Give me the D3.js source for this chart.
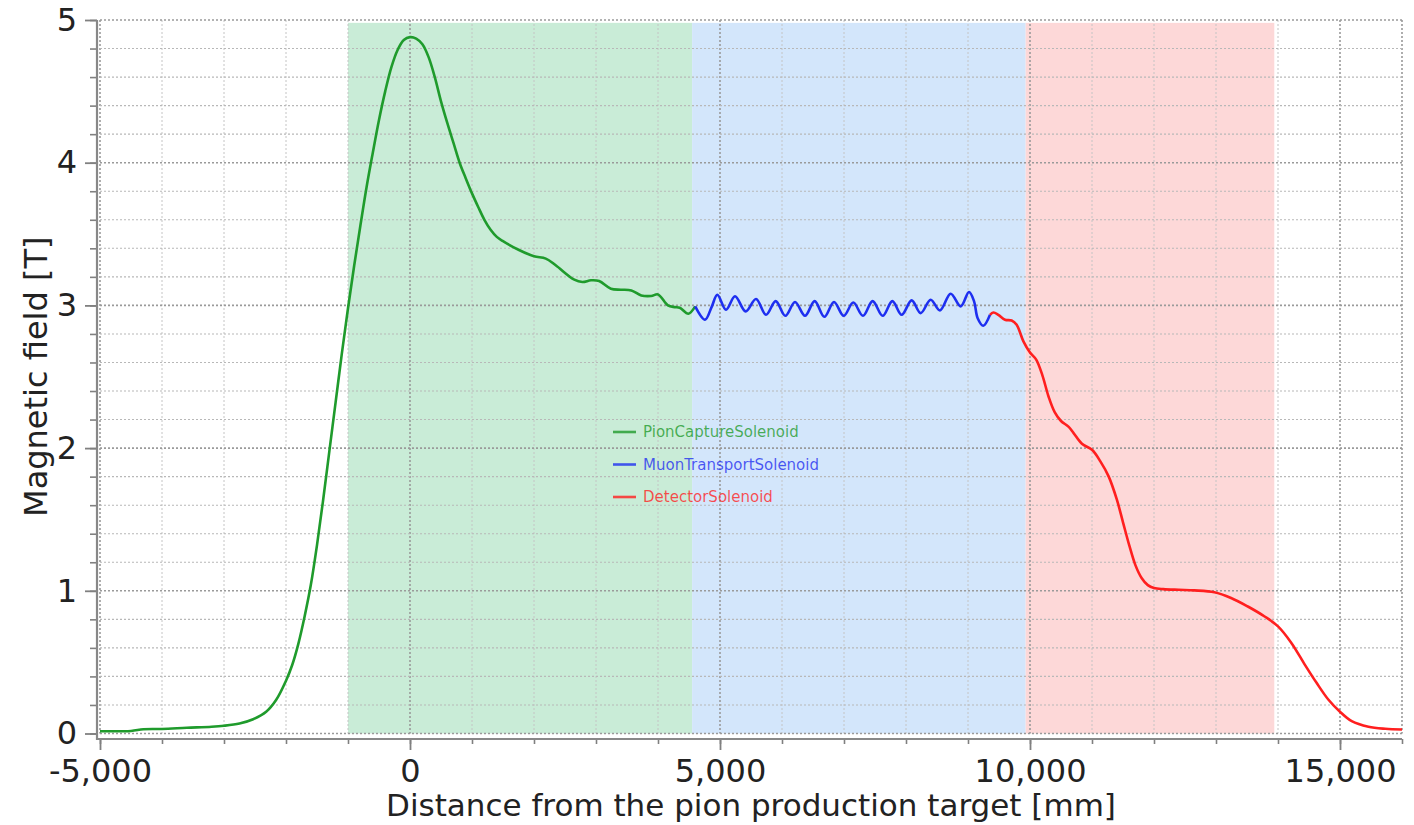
<!DOCTYPE html>
<html>
<head>
<meta charset="utf-8">
<script src="https://cdn.jsdelivr.net/npm/d3@7"></script>
<style>
  body { margin: 0; background: #fff; }
  svg { display: block; }
</style>
</head>
<body>
<div id="chart"></div>
<script>
const width = 1414;
const height = 825;

// solenoids, their colours and the stretch of beam line they cover [mm]
const solenoids = ["PionCaptureSolenoid", "MuonTransportSolenoid", "DetectorSolenoid"];
const lineColors = ["#1f9b2c", "#1e2ff0", "#ff1f1f"];
const bandColors = ["#c9ecd7", "#d3e6fb", "#fdd8d8"];
const regionStart = [-1000, 4550, 9930];
const regionEnd = [4550, 9930, 13940];

// field on axis [T] vs distance [mm]
const pionZ = [-5000, -4500, -4300, -4000, -3600, -3200, -3000, -2750, -2530, -2320, -2160, -2000,
  -1900, -1800, -1700, -1600, -1500, -1400, -1300, -1200, -1100, -1000, -900, -800, -700, -600,
  -500, -400, -300, -200, -100, 0, 100, 200, 300, 400, 500, 600, 700, 800, 900, 1000, 1100, 1200,
  1300, 1400, 1500, 1750, 2000, 2190, 2350, 2650, 2780, 2920, 3050, 3240, 3400,
  3570, 3730, 3890, 4000, 4160, 4270, 4350, 4490, 4600];
const pionB = [0.016, 0.018, 0.03, 0.032, 0.04, 0.047, 0.054, 0.07, 0.1, 0.153, 0.235, 0.37,
  0.48, 0.63, 0.82, 1.04, 1.32, 1.64, 1.98, 2.32, 2.66, 2.98, 3.28, 3.56, 3.83, 4.07,
  4.3, 4.5, 4.67, 4.79, 4.86, 4.88, 4.87, 4.83, 4.74, 4.6, 4.43, 4.28, 4.14, 4.0, 3.89, 3.785, 3.69, 3.6,
  3.53, 3.48, 3.45, 3.39, 3.344, 3.328, 3.281, 3.18, 3.164, 3.176, 3.171, 3.117, 3.11,
  3.105, 3.07, 3.066, 3.077, 3.0, 2.988, 2.984, 2.942, 2.993];

const muonZ = [4600, 4758, 4866, 4957, 5097, 5242, 5414, 5581, 5742, 5898, 6054, 6210, 6371, 6527,
  6683, 6839, 6995, 7150, 7306, 7462, 7624, 7780, 7930, 8091, 8237, 8398, 8548, 8720, 8882, 9016,
  9097, 9156, 9247, 9355];
const muonB = [2.993, 2.90, 2.99, 3.075, 2.97, 3.064, 2.958, 3.045, 2.934, 3.03, 2.927, 3.024, 2.927, 3.03,
  2.92, 3.024, 2.927, 3.02, 2.927, 3.03, 2.927, 3.03, 2.934, 3.035, 2.946, 3.04, 2.965, 3.082, 2.993, 3.094,
  3.03, 2.91, 2.857, 2.934];

const detZ = [9355, 9409, 9489, 9597, 9704, 9785, 9892, 10000, 10100, 10200, 10300, 10400, 10500, 10620,
  10703, 10838, 11000, 11135, 11270, 11400, 11500, 11600, 11700, 11800, 11900, 12000, 12150, 12400,
  12649, 12973, 13243, 13514, 13784, 14000, 14216, 14432, 14622, 14811, 15000, 15189, 15459, 15730, 16000];
const detB = [2.934, 2.95, 2.934, 2.90, 2.894, 2.864, 2.75, 2.67, 2.62, 2.51, 2.36, 2.25, 2.19, 2.15,
  2.105, 2.03, 1.988, 1.907, 1.80, 1.64, 1.48, 1.32, 1.18, 1.09, 1.04, 1.02, 1.012, 1.007,
  1.003, 0.99, 0.95, 0.89, 0.82, 0.751, 0.635, 0.483, 0.355, 0.238, 0.152, 0.086, 0.047, 0.033, 0.028];

// ticks
const xTickValues = [-5000, 0, 5000, 10000, 15000];
const xTickLabels = ["-5,000", "0", "5,000", "10,000", "15,000"];
const yTickValues = [0, 1, 2, 3, 4, 5];

const xTitle = "Distance from the pion production target [mm]";
const yTitle = "Magnetic field [T]";

const series = [
  { z: pionZ, b: pionB },
  { z: muonZ, b: muonB },
  { z: detZ, b: detB }
];

const x = d3.scaleLinear().domain([-5000, 16000]).range([100, 1402]);
const y = d3.scaleLinear().domain([0, 5]).range([733.5, 20]);
const axisY = 739; // x axis sits a little under B = 0
const axisX = 97;

const svg = d3.select("#chart")
  .append("svg")
    .attr("width", width)
    .attr("height", height)
    .style("font-family", "'DejaVu Sans', sans-serif");

// coloured regions behind everything
svg.append("g")
  .selectAll("rect")
  .data(solenoids)
  .join("rect")
    .attr("x", (d, i) => x(regionStart[i]))
    .attr("width", (d, i) => x(regionEnd[i]) - x(regionStart[i]))
    .attr("y", y(4.98))
    .attr("height", y(0) - y(4.98))
    .attr("fill", (d, i) => bandColors[i]);

// grid, minor then major
const minorX = d3.range(-5000, 16001, 1000);
const minorY = d3.range(0, 26).map(i => i * 0.2);
const isMajorX = v => v % 5000 === 0 || v === 16000;
const isMajorY = v => Math.abs(v - Math.round(v)) < 1e-6;

const grid = svg.append("g").attr("fill", "none");
grid.selectAll(".vx")
  .data(minorX)
  .join("line")
    .attr("x1", d => x(d)).attr("x2", d => x(d))
    .attr("y1", y(5)).attr("y2", y(0))
    .attr("stroke", d => isMajorX(d) ? "#9a9a9a" : "#c4c4c4")
    .attr("stroke-width", d => isMajorX(d) ? 1.6 : 1)
    .attr("stroke-dasharray", "2,2");
grid.selectAll(".hy")
  .data(minorY)
  .join("line")
    .attr("x1", x(-5000)).attr("x2", x(16000))
    .attr("y1", d => y(d)).attr("y2", d => y(d))
    .attr("stroke", d => isMajorY(d) ? "#9a9a9a" : "#b8b8b8")
    .attr("stroke-width", d => isMajorY(d) ? 1.6 : 1.1)
    .attr("stroke-dasharray", "2,2");

// field curves
const line = d3.line()
  .x(d => x(d[0]))
  .y(d => y(d[1]))
  .curve(d3.curveCatmullRom.alpha(0.5));

svg.append("g")
  .attr("fill", "none")
  .attr("stroke-width", 2.6)
  .attr("stroke-linejoin", "round")
  .selectAll("path")
  .data(series)
  .join("path")
    .attr("stroke", (d, i) => lineColors[i])
    .attr("d", d => line(d.z.map((z, j) => [z, d.b[j]])));

// axes
const yAxis = svg.append("g")
  .attr("transform", `translate(${axisX},0)`)
  .call(d3.axisLeft(y).tickValues(minorY).tickSize(7).tickFormat(""))
  .call(g => g.select(".domain").remove());
yAxis.selectAll("line").attr("stroke", "#808080").attr("stroke-width", 1.6);

const yMajor = svg.append("g")
  .attr("transform", `translate(${axisX},0)`)
  .call(d3.axisLeft(y).tickValues(yTickValues).tickSize(12).tickPadding(8).tickFormat(d3.format("d")))
  .call(g => g.select(".domain").remove());
yMajor.selectAll("line").attr("stroke", "#808080").attr("stroke-width", 1.8);
yMajor.selectAll("text")
  .attr("fill", "#222")
  .style("font-size", "32px")
  .style("font-family", "'DejaVu Sans', sans-serif");

const xAxis = svg.append("g")
  .attr("transform", `translate(0,${axisY})`)
  .call(d3.axisBottom(x).tickValues(minorX).tickSize(5).tickFormat(""))
  .call(g => g.select(".domain").remove());
xAxis.selectAll("line").attr("stroke", "#808080").attr("stroke-width", 1.6);

const xMajor = svg.append("g")
  .attr("transform", `translate(0,${axisY})`)
  .call(d3.axisBottom(x).tickValues(xTickValues).tickSize(11).tickPadding(9)
    .tickFormat((d, i) => xTickLabels[i]))
  .call(g => g.select(".domain").remove());
xMajor.selectAll("line").attr("stroke", "#808080").attr("stroke-width", 1.8);
xMajor.selectAll("text")
  .attr("fill", "#222")
  .style("font-size", "32px")
  .style("font-family", "'DejaVu Sans', sans-serif");

// axis lines
svg.append("path")
  .attr("d", `M${axisX},${y(5)}V${axisY}H${x(16000)}`)
  .attr("fill", "none")
  .attr("stroke", "#888")
  .attr("stroke-width", 2.2);

// titles
svg.append("text")
  .attr("x", (x(-5000) + x(16000)) / 2)
  .attr("y", 816)
  .attr("text-anchor", "middle")
  .attr("fill", "#222")
  .style("font-size", "31px")
  .text(xTitle);

svg.append("text")
  .attr("transform", `translate(47,${(y(0) + y(5)) / 2}) rotate(-90)`)
  .attr("text-anchor", "middle")
  .attr("fill", "#222")
  .style("font-size", "32px")
  .text(yTitle);

// legend
const legend = svg.append("g")
  .attr("transform", "translate(613,432)")
  .selectAll("g")
  .data(solenoids)
  .join("g")
    .attr("transform", (d, i) => `translate(0,${i * 32.5})`);

legend.append("line")
  .attr("x1", 0).attr("x2", 23)
  .attr("stroke", (d, i) => lineColors[i])
  .attr("stroke-opacity", 0.8)
  .attr("stroke-width", 2.6);

legend.append("text")
  .attr("x", 30)
  .attr("dy", "0.35em")
  .attr("fill", (d, i) => lineColors[i])
  .attr("fill-opacity", 0.78)
  .style("font-size", "15px")
  .text(d => d);
</script>
</body>
</html>
